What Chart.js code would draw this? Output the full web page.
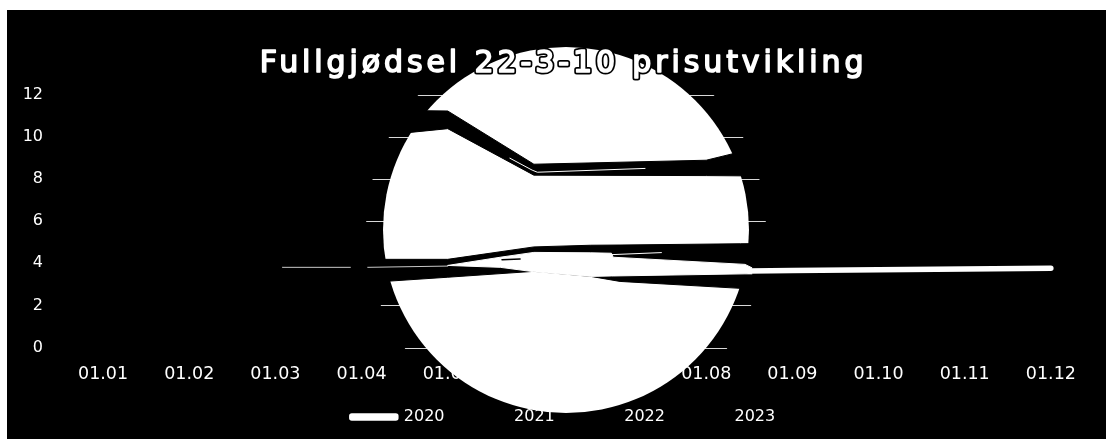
<!DOCTYPE html>
<html>
<head>
<meta charset="utf-8">
<script src="https://cdn.jsdelivr.net/npm/chart.js@4"></script>
<style>
  body { margin: 0; background: #fff; }
  canvas { display: block; }
</style>
</head>
<body>
<canvas id="prisChart" width="1106" height="439"></canvas>
<script>
const titleText = 'Fullgjødsel 22-3-10 prisutvikling';
const monthLabels = ['01.01','01.02','01.03','01.04','01.05','01.06','01.07','01.08','01.09','01.10','01.11','01.12'];
const yearLabels = ['2020','2021','2022','2023'];

const x2020 = [8.5, 9, 10, 11, 12];
const y2020 = [3.63, 3.66, 3.69, 3.73, 3.77];

const xUpperBand = [3.9, 5, 6, 8, 9];
const y2021 = [11.29, 11.24, 8.71, 8.90, 9.90];
const y2022 = [9.95, 10.40, 8.19, 8.17, 8.14];

const xMidBand = [3.9, 5, 6, 6.66, 7, 8.4, 9];
const y2023 = [4.19, 4.19, 4.78, 4.86, 4.87, 4.93, 4.95];
const yMidLower = [3.04, 3.34, 3.62, 3.38, 3.14, 2.81, 2.67];

const xWedge = [5, 5.61, 6, 6.66, 6.9, 6.92, 8.45, 8.53];
const yWedgeTop = [3.90, 4.29, 4.52, 4.50, 4.48, 4.29, 3.95, 3.79];
const yWedgeBottom = [3.90, 3.81, 3.60, 3.38, 3.40, 3.40, 3.50, 3.50];

const xThin = [3.08, 3.87, 3.95, 4.07, 5];
const yThin = [3.81, 3.81, null, 3.81, 3.87];
const xSliverA = [5.72, 5.98, 6.04, 7.29];
const ySliverA = [9.0, 8.43, 8.33, 8.51];
const xSliverB = [6.88, 7.48];
const ySliverB = [4.41, 4.51];
const xDarkSliver = [5.63, 5.84];
const yDarkSliver = [4.17, 4.21];

const titleSpacing = '3.9px';

function pts(xs, ys) {
  return xs.map(function (x, i) { return { x: x, y: ys[i] }; });
}

function band(label, xs, ys, color, width, order, fillTarget) {
  return {
    label: label,
    data: pts(xs, ys),
    borderColor: color,
    backgroundColor: color,
    borderWidth: width,
    borderCapStyle: 'round',
    borderJoinStyle: 'round',
    pointRadius: 0,
    tension: 0,
    order: order,
    fill: fillTarget === undefined ? false : fillTarget
  };
}

const discPlugin = {
  id: 'disc',
  beforeDraw: function (chart) {
    const ctx = chart.ctx;
    const yScale = chart.scales.y;
    ctx.save();
    ctx.fillStyle = '#000';
    ctx.fillRect(7, 10, 1099, 429);

    // grid lines only show in a thin ring round the disc
    ctx.save();
    ctx.beginPath();
    ctx.arc(566, 230, 200, 0, Math.PI * 2);
    ctx.arc(566, 230, 182, 0, Math.PI * 2, true);
    ctx.clip('evenodd');
    ctx.strokeStyle = '#d8d8d8';
    ctx.lineWidth = 1;
    yScale.ticks.forEach(function (t) {
      const y = Math.round(yScale.getPixelForValue(t.value)) + 0.5;
      ctx.beginPath();
      ctx.moveTo(340, y);
      ctx.lineTo(790, y);
      ctx.stroke();
    });
    ctx.restore();

    ctx.fillStyle = '#fff';
    ctx.beginPath();
    ctx.arc(566, 230, 183, 0, Math.PI * 2);
    ctx.fill();

    // outline under the title: black halo, then a white stroke to thicken the letters
    const tb = chart.titleBlock;
    const o = chart.options.plugins.title;
    const tx = (tb.left + tb.right) / 2;
    const ty = tb.top + o.padding.top + o.font.size * 0.6;
    ctx.font = o.font.weight + ' ' + o.font.size + 'px ' + o.font.family;
    ctx.letterSpacing = titleSpacing;
    ctx.textAlign = 'center';
    ctx.textBaseline = 'middle';
    ctx.lineJoin = 'round';
    ctx.strokeStyle = '#000';
    ctx.lineWidth = 5;
    ctx.strokeText(titleText, tx, ty);
    ctx.strokeStyle = '#fff';
    ctx.lineWidth = 1.6;
    ctx.strokeText(titleText, tx, ty);
    ctx.letterSpacing = '0px';
    ctx.restore();

    // the title plugin has no letter spacing option
    if (!tb.spacedDraw) {
      const plainDraw = tb.draw;
      tb.draw = function () {
        ctx.letterSpacing = titleSpacing;
        plainDraw.call(tb);
        ctx.letterSpacing = '0px';
      };
      tb.spacedDraw = true;
    }
  }
};

new Chart(document.getElementById('prisChart'), {
  type: 'line',
  data: {
    datasets: [
      band(yearLabels[0], x2020, y2020, '#fff', 5.5, 2),
      band(yearLabels[1], xUpperBand, y2021, '#000', 1, 5, '+1'),
      band(yearLabels[2], xUpperBand, y2022, '#000', 1, 5),
      band(yearLabels[3], xMidBand, y2023, '#000', 1, 6, '+1'),
      band('', xMidBand, yMidLower, '#000', 1, 6),
      band('', xWedge, yWedgeTop, '#fff', 1, 3, '+1'),
      band('', xWedge, yWedgeBottom, '#fff', 1, 3),
      band('', xThin, yThin, '#c8c8c8', 1, 1),
      band('', xSliverA, ySliverA, '#fff', 1, 1),
      band('', xSliverB, ySliverB, '#fff', 1, 1),
      band('', xDarkSliver, yDarkSliver, '#000', 1.5, 1)
    ]
  },
  options: {
    responsive: false,
    animation: false,
    layout: { padding: { left: 21, right: 0, top: 20, bottom: 4 } },
    plugins: {
      title: {
        display: true,
        text: titleText,
        color: '#fff',
        font: { family: 'DejaVu Sans', size: 30, weight: 'normal' },
        padding: { top: 26, bottom: 13 }
      },
      legend: {
        position: 'bottom',
        labels: {
          color: '#fff',
          font: { family: 'DejaVu Sans', size: 16 },
          boxWidth: 44,
          boxHeight: 2,
          padding: 17.5,
          filter: function (item) { return yearLabels.includes(item.text); }
        }
      },
      tooltip: { enabled: false }
    },
    scales: {
      x: {
        type: 'linear',
        min: 0.5,
        max: 12.64,
        grid: { display: false },
        border: { display: false },
        afterBuildTicks: function (scale) {
          scale.ticks = monthLabels.map(function (_, i) { return { value: i + 1 }; });
        },
        afterFit: function (scale) { scale.height = 44; },
        ticks: {
          color: '#fff',
          autoSkip: false,
          maxRotation: 0,
          padding: 8,
          font: { family: 'DejaVu Sans', size: 17.5 },
          callback: function (v) { return monthLabels[v - 1]; }
        }
      },
      y: {
        min: 0,
        max: 12,
        grid: { display: false },
        border: { display: false },
        afterFit: function (scale) { scale.width = 39; },
        ticks: {
          color: '#fff',
          stepSize: 2,
          padding: 9,
          font: { family: 'DejaVu Sans', size: 16 }
        }
      }
    }
  },
  plugins: [discPlugin]
});
</script>
</body>
</html>
